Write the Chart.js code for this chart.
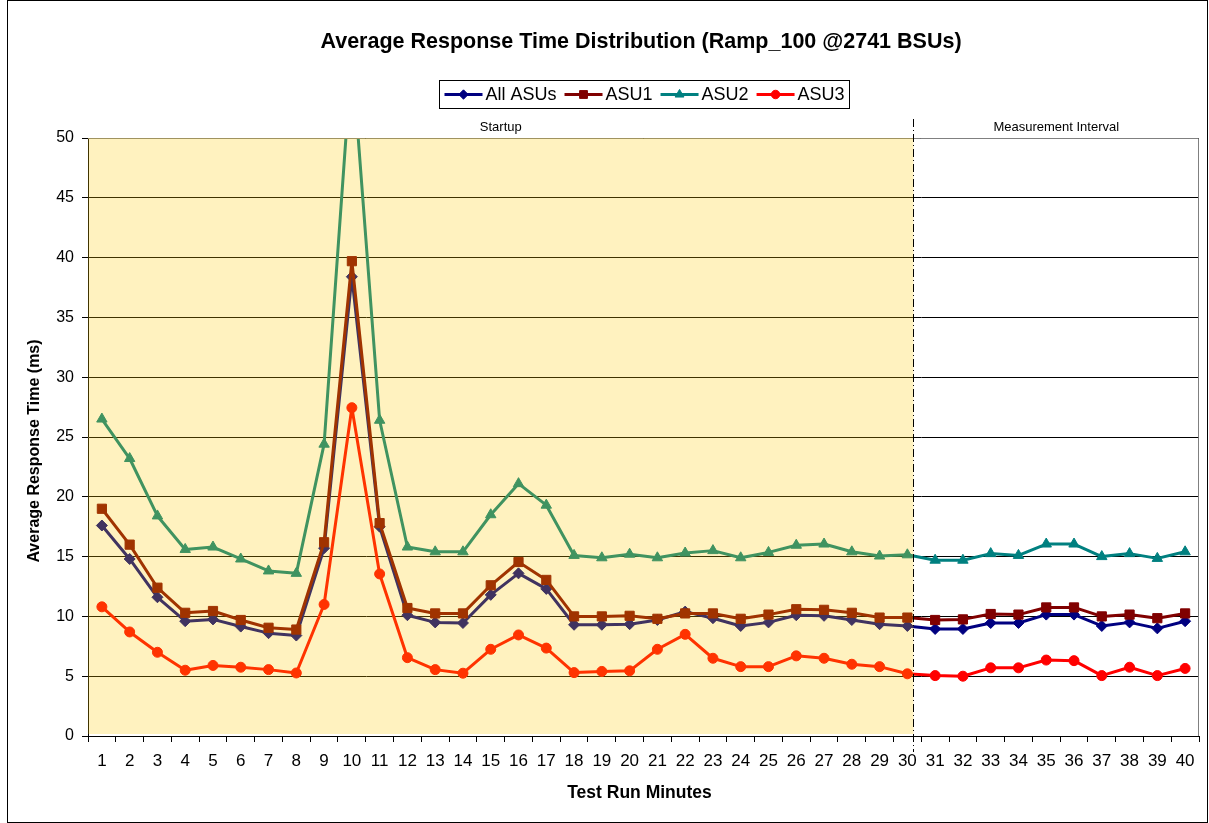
<!DOCTYPE html>
<html><head><meta charset="utf-8">
<script src="https://cdn.jsdelivr.net/npm/chart.js@4.4.0/dist/chart.umd.min.js"></script>
<style>html,body{margin:0;padding:0;background:#fff}#wrap{width:1209px;height:823px}</style>
</head><body><div id="wrap"><canvas id="c" width="1209" height="823"></canvas></div>
<script>
const minutes = [1,2,3,4,5,6,7,8,9,10,11,12,13,14,15,16,17,18,19,20,21,22,23,24,25,26,27,28,29,30,31,32,33,34,35,36,37,38,39,40];
const allASUs = [17.6,14.8,11.6,9.6,9.75,9.15,8.6,8.4,15.7,38.4,17.5,10.1,9.5,9.45,11.8,13.6,12.3,9.3,9.3,9.35,9.7,10.4,9.85,9.2,9.5,10.1,10.05,9.7,9.35,9.2,8.95,8.95,9.45,9.45,10.15,10.15,9.2,9.5,9.0,9.6];
const asu1 = [19.0,16.0,12.4,10.3,10.45,9.7,9.05,8.9,16.2,39.7,17.8,10.7,10.25,10.25,12.6,14.55,13.05,10.0,10.0,10.05,9.8,10.25,10.25,9.8,10.15,10.6,10.55,10.3,9.9,9.9,9.7,9.75,10.2,10.15,10.75,10.75,10.0,10.15,9.85,10.25];
const asu2 = [26.5,23.2,18.4,15.6,15.8,14.8,13.8,13.6,24.4,57.0,26.4,15.8,15.4,15.4,18.5,21.1,19.3,15.1,14.9,15.2,14.9,15.3,15.5,14.9,15.35,15.95,16.05,15.4,15.05,15.15,14.7,14.7,15.25,15.1,16.05,16.05,15.0,15.25,14.85,15.4];
const asu3 = [10.8,8.7,7.0,5.5,5.9,5.75,5.55,5.27,11.0,27.45,13.55,6.55,5.55,5.25,7.25,8.45,7.35,5.3,5.4,5.45,7.25,8.5,6.5,5.8,5.8,6.7,6.5,6.0,5.8,5.2,5.05,5.0,5.7,5.7,6.35,6.3,5.05,5.75,5.05,5.65];
const yMin = 0, yMax = 50, yStep = 5;
const startupLabel = 'Startup';
const measureLabel = 'Measurement Interval';
const startupLastMinute = 30;
const chartTitle = 'Average Response Time Distribution (Ramp_100 @2741 BSUs)';
const xTitle = 'Test Run Minutes';
const yTitle = 'Average Response Time (ms)';

const FONT = "'Liberation Sans', Arial, sans-serif";

const decor = {
  id: 'decor',
  beforeDraw(chart) {
    const ctx = chart.ctx;
    ctx.save();
    ctx.fillStyle = '#fff';
    ctx.fillRect(0, 0, chart.width, chart.height);
    ctx.restore();
  },
  afterDatasetsDraw(chart) {
    const ctx = chart.ctx, a = chart.chartArea, x = chart.scales.x;
    const step = x.getPixelForValue(1) - x.getPixelForValue(0);
    const split = Math.round(x.getPixelForValue(startupLastMinute - 1) + 0.2 * step) + 0.5;
    ctx.save();
    ctx.strokeStyle = '#808080'; ctx.lineWidth = 1;
    ctx.beginPath();
    ctx.moveTo(a.left, a.top + 0.5); ctx.lineTo(a.right - 0.5, a.top + 0.5); ctx.lineTo(a.right - 0.5, a.bottom);
    ctx.stroke();
    ctx.fillStyle = 'rgba(255,204,0,0.25)';
    ctx.fillRect(a.left, a.top, split - a.left, a.bottom - a.top - 2);
    ctx.strokeStyle = '#000'; ctx.lineWidth = 1;
    ctx.setLineDash([8, 3, 1, 3]);
    ctx.beginPath(); ctx.moveTo(split, a.top - 19); ctx.lineTo(split, a.bottom + 16); ctx.stroke();
    ctx.setLineDash([]);
    ctx.fillStyle = '#000'; ctx.font = '13px ' + FONT;
    ctx.textAlign = 'center'; ctx.textBaseline = 'middle';
    ctx.fillText(startupLabel, (a.left + split) / 2, a.top - 11);
    ctx.fillText(measureLabel, (split + a.right) / 2, a.top - 11);
    ctx.restore();
  },
  afterDraw(chart) {
    const ctx = chart.ctx, a = chart.chartArea;
    ctx.save();
    ctx.strokeStyle = '#000'; ctx.lineWidth = 1;
    ctx.strokeRect(7.5, 0.5, 1200, 822);
    ctx.fillStyle = '#000';
    ctx.textAlign = 'center'; ctx.textBaseline = 'middle';
    ctx.font = 'bold 21.5px ' + FONT;
    ctx.fillText(chartTitle, 641, 42);
    ctx.font = 'bold 17.5px ' + FONT;
    ctx.fillText(xTitle, (a.left + a.right) / 2 - 4, 793);
    ctx.font = 'bold 16px ' + FONT;
    ctx.save();
    ctx.translate(35, 451); ctx.rotate(-Math.PI / 2);
    ctx.fillText(yTitle, 0, 0);
    ctx.restore();
    ctx.font = '18px ' + FONT;
    const ds = chart.data.datasets;
    const lineLen = 38, gapT = 3, gapE = 8, pad = 5;
    let total = pad * 2;
    ds.forEach((d, i) => { total += lineLen + gapT + ctx.measureText(d.label).width + (i < ds.length - 1 ? gapE : 0); });
    const cx = 644, top = 80.5, h = 28;
    let xx = Math.round(cx - total / 2) + 0.5;
    ctx.strokeStyle = '#000'; ctx.lineWidth = 1;
    ctx.strokeRect(xx, top, Math.round(total), h);
    let px = xx + pad;
    const cy = top + h / 2;
    ds.forEach((d) => {
      ctx.strokeStyle = d.borderColor; ctx.lineWidth = 3;
      ctx.beginPath(); ctx.moveTo(px, cy); ctx.lineTo(px + lineLen, cy); ctx.stroke();
      ctx.fillStyle = d.borderColor; ctx.lineWidth = 1;
      Chart.helpers.drawPoint(ctx, { pointStyle: d.pointStyle, radius: d.pointRadius * 0.85, rotation: 0, borderWidth: 1 }, px + lineLen / 2, cy);
      ctx.fillStyle = '#000'; ctx.textAlign = 'left'; ctx.textBaseline = 'middle';
      const tx = px + lineLen + gapT;
      ctx.fillText(d.label, tx, cy + 1);
      px = tx + ctx.measureText(d.label).width + gapE;
    });
    ctx.restore();
  }
};

function series(label, data, color, style, radius, order) {
  return {
    label, data, borderColor: color, backgroundColor: color,
    pointStyle: style, pointRadius: radius, pointHoverRadius: radius,
    pointBorderColor: color, pointBackgroundColor: color, pointBorderWidth: 1,
    borderWidth: 3, borderJoinStyle: 'round', borderCapStyle: 'round',
    tension: 0, fill: false, clip: 0, order
  };
}

new Chart(document.getElementById('c'), {
  type: 'line',
  data: {
    labels: minutes,
    datasets: [
      series('All ASUs', allASUs, '#000080', 'rectRot', 5.5, 4),
      series('ASU1', asu1, '#800000', 'rect', 6.5, 3),
      series('ASU2', asu2, '#008080', 'triangle', 6, 2),
      series('ASU3', asu3, '#FF0000', 'circle', 5, 1)
    ]
  },
  options: {
    responsive: false,
    animation: false,
    devicePixelRatio: 1,
    layout: { padding: { left: 8, right: 10, top: 138, bottom: 0 } },
    plugins: { legend: { display: false }, title: { display: false }, tooltip: { enabled: false } },
    scales: {
      x: {
        type: 'category',
        offset: true,
        grid: { offset: true, drawOnChartArea: false, drawTicks: true, tickLength: 6, color: '#000' },
        border: { color: '#000', width: 1 },
        ticks: { color: '#000', font: { family: FONT, size: 17 }, padding: 9, autoSkip: false, maxRotation: 0 },
        afterFit(s) { s.height = 87; }
      },
      y: {
        min: yMin, max: yMax,
        grid: { color: '#000', lineWidth: 1, drawTicks: true, tickLength: 6 },
        border: { color: '#000', width: 1 },
        ticks: { stepSize: yStep, color: '#000', font: { family: FONT, size: 16 }, padding: 8 },
        afterFit(s) { s.width = 80; }
      }
    }
  },
  plugins: [decor]
});
</script>
</body></html>
